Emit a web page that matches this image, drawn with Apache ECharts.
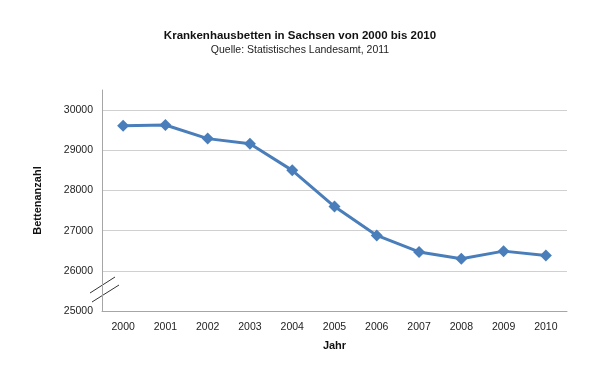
<!DOCTYPE html>
<html><head><meta charset="utf-8">
<script src="https://cdn.jsdelivr.net/npm/echarts@6/dist/echarts.min.js"></script>
<style>html,body{margin:0;padding:0;background:#fff}#c{width:600px;height:386px}</style>
</head><body><div id="c"></div>
<script>
const years = ['2000','2001','2002','2003','2004','2005','2006','2007','2008','2009','2010'];
const betten = [29610, 29630, 29290, 29160, 28500, 27600, 26880, 26470, 26300, 26490, 26380];
const yTicks = [25000, 26000, 27000, 28000, 29000, 30000];

const chart = echarts.init(document.getElementById('c'));
chart.setOption({
  animation: false,
  title: {
    text: 'Krankenhausbetten in Sachsen von 2000 bis 2010',
    subtext: 'Quelle: Statistisches Landesamt, 2011',
    left: 'center', top: 25, itemGap: 3,
    textStyle: {fontFamily: 'Liberation Sans', fontSize: 11.5, fontWeight: 'bold', color: '#111'},
    subtextStyle: {fontFamily: 'Liberation Sans', fontSize: 10.5, color: '#222'}
  },
  grid: {left: 102, right: 33, top: 90, bottom: 75},
  xAxis: {
    type: 'category', data: years, boundaryGap: true,
    name: 'Jahr', nameLocation: 'middle', nameGap: 29,
    nameTextStyle: {fontFamily: 'Liberation Sans', fontSize: 11, fontWeight: 'bold', color: '#111'},
    axisLine: {lineStyle: {color: '#a6a6a6', width: 1}},
    axisTick: {show: false},
    axisLabel: {fontFamily: 'Liberation Sans', fontSize: 10.5, color: '#222', margin: 11}
  },
  yAxis: {
    type: 'value', min: yTicks[0], max: 30500, interval: 1000,
    name: 'Bettenanzahl', nameLocation: 'middle', nameGap: 59, nameRotate: 90,
    nameTextStyle: {fontFamily: 'Liberation Sans', fontSize: 11, fontWeight: 'bold', color: '#111'},
    axisLine: {show: true, lineStyle: {color: '#a6a6a6', width: 1}},
    axisTick: {show: false},
    axisLabel: {fontFamily: 'Liberation Sans', fontSize: 10.5, color: '#222', margin: 9, showMaxLabel: false,
      formatter: v => String(v)},
    splitLine: {show: true, showMaxLine: false, lineStyle: {color: '#d0d0d0', width: 1}}
  },
  graphic: [
    {type: 'line', shape: {x1: 90, y1: 293, x2: 115, y2: 277}, style: {stroke: '#333', lineWidth: 1}},
    {type: 'line', shape: {x1: 92, y1: 302, x2: 119, y2: 285}, style: {stroke: '#333', lineWidth: 1}}
  ],
  series: [{
    type: 'line', data: betten,
    symbol: 'diamond', symbolSize: 12,
    lineStyle: {color: '#4a7ebb', width: 3},
    itemStyle: {color: '#4a7ebb'}
  }]
});
</script></body></html>
